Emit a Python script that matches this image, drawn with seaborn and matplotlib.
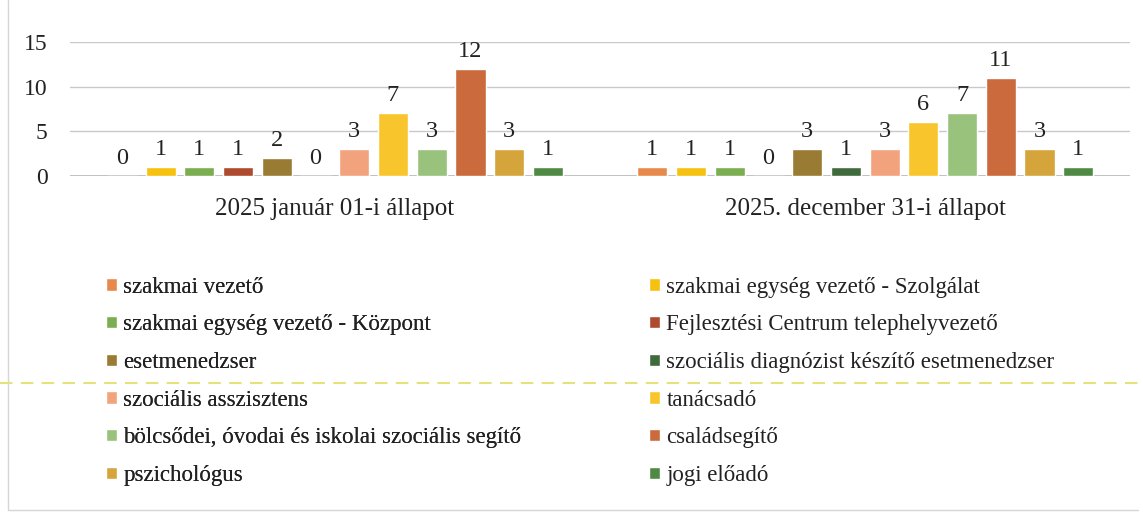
import pandas as pd
import matplotlib.pyplot as plt
import seaborn as sns
from matplotlib.lines import Line2D

# two snapshots, 12 job roles each
allapotok = ["2025 január 01-i állapot", "2025. december 31-i állapot"]
munkakorok = [
    "szakmai vezető",
    "szakmai egység vezető - Szolgálat",
    "szakmai egység vezető - Központ",
    "Fejlesztési Centrum telephelyvezető",
    "esetmenedzser",
    "szociális diagnózist készítő esetmenedzser",
    "szociális asszisztens",
    "tanácsadó",
    "bölcsődei, óvodai és iskolai szociális segítő",
    "családsegítő",
    "pszichológus",
    "jogi előadó",
]
letszam_jan = [0, 1, 1, 1, 2, 0, 3, 7, 3, 12, 3, 1]
letszam_dec = [1, 1, 1, 0, 3, 1, 3, 6, 7, 11, 3, 1]

szinek = {
    "szakmai vezető": "#E8894C",
    "szakmai egység vezető - Szolgálat": "#F6C20F",
    "szakmai egység vezető - Központ": "#7BAE50",
    "Fejlesztési Centrum telephelyvezető": "#AE4A2E",
    "esetmenedzser": "#9A7B33",
    "szociális diagnózist készítő esetmenedzser": "#3F6B3C",
    "szociális asszisztens": "#F2A27C",
    "tanácsadó": "#F8C62C",
    "bölcsődei, óvodai és iskolai szociális segítő": "#99C27C",
    "családsegítő": "#CB6A3C",
    "pszichológus": "#D5A53C",
    "jogi előadó": "#4F8A45",
}

df = pd.DataFrame({
    "allapot": [allapotok[0]] * len(munkakorok) + [allapotok[1]] * len(munkakorok),
    "munkakor": munkakorok * 2,
    "fo": letszam_jan + letszam_dec,
})

sns.set_theme(style="white")
plt.rcParams["font.family"] = ["Liberation Serif", "DejaVu Serif"]
szoveg = "#222222"

fig = plt.figure(figsize=(11.43, 5.14), dpi=100)
ax = fig.add_axes([0.061, 0.658, 0.928, 0.26])

sns.barplot(
    data=df, x="allapot", y="fo", hue="munkakor",
    order=allapotok, hue_order=munkakorok, palette=szinek,
    width=0.876, gap=0.22, saturation=1, legend=True, ax=ax,
)
for cont in ax.containers:
    ax.bar_label(cont, padding=5, fontsize=17.5, color=szoveg)

ax.set_ylim(0, 15)
ax.set_yticks([0, 5, 10, 15])
ax.yaxis.grid(True, color="#c9c9c9", linewidth=1)
ax.set_axisbelow(True)
for s in ax.spines.values():
    s.set_visible(False)
ax.axhline(0, color="#b5b5b5", linewidth=1.2, zorder=0)
ax.set_xlabel("")
ax.set_ylabel("")
ax.tick_params(axis="y", length=0, pad=16, labelsize=17, labelcolor=szoveg)
ax.tick_params(axis="x", length=0, pad=16, labelsize=18, labelcolor=szoveg)

handles, labels = ax.get_legend_handles_labels()
ax.get_legend().remove()
kw = dict(loc="upper left", frameon=False, fontsize=16.5, labelcolor=szoveg,
          handlelength=0.45, handleheight=0.45, handletextpad=0.3,
          labelspacing=0.73, borderpad=0, borderaxespad=0)
bal = fig.legend(handles[0::2], labels[0::2], bbox_to_anchor=(0.093, 0.462), **kw)
jobb = fig.legend(handles[1::2], labels[1::2], bbox_to_anchor=(0.568, 0.462), **kw)
fig.add_artist(bal)

# scan frame and the faint yellow dashed stripe
fig.add_artist(Line2D([0.007, 0.007], [0.008, 1], color="#d6d6d6", lw=1))
fig.add_artist(Line2D([0.007, 0.996], [0.008, 0.008], color="#d6d6d6", lw=1))
fig.add_artist(Line2D([0.0, 1.0], [0.255, 0.255], color="#e6e27a", lw=1.5, ls=(0, (6, 4))))

fig.savefig("out.png", dpi=100)
